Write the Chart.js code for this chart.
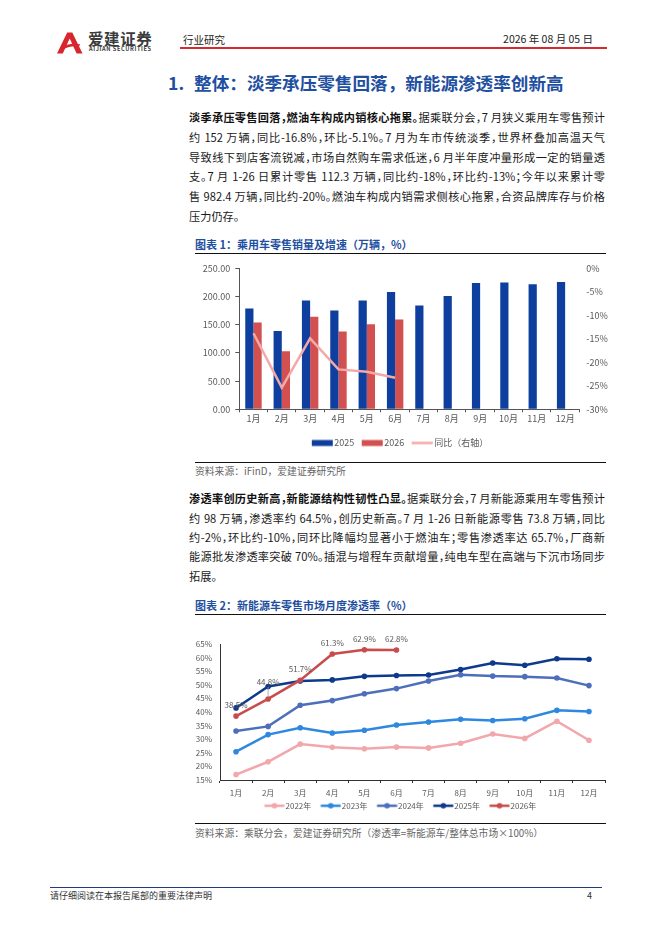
<!DOCTYPE html>
<html><head><meta charset="utf-8">
<script src="https://cdn.jsdelivr.net/npm/chart.js@4.4.1/dist/chart.umd.min.js"></script>
<style>
html,body{margin:0;padding:0;background:#fff;}
body{width:662px;height:936px;position:relative;overflow:hidden;font-family:"Noto Sans CJK SC","Noto Sans",sans-serif;color:#1a1a1a;}
.a{position:absolute;white-space:nowrap;}
.ln{position:absolute;left:189px;width:416px;font-size:11.2px;line-height:14px;height:14px;text-align:justify;text-align-last:justify;font-feature-settings:"halt";overflow:visible;}
.ln.last{text-align-last:left;}
.ln b{font-weight:700;color:#111;}
.cap{position:absolute;left:195px;font-size:11px;font-weight:700;color:#1f4fa0;line-height:14px;white-space:nowrap;}
.rule{position:absolute;left:195px;width:411px;height:1px;background:#111;}
.src{position:absolute;left:195px;font-size:9.8px;color:#666;line-height:12px;white-space:nowrap;}
canvas{position:absolute;}
</style>
</head><body>

<!-- header -->
<svg class="a" style="left:57px;top:32px" width="26" height="22" viewBox="0 0 26 22">
  <path d="M0 21.5 L10.2 0.5 L15.3 0.5 L25.5 21.5 L19.6 21.5 L12.7 6.5 L5.8 21.5 Z" fill="#d7262e"/>
  <path d="M3.5 16 Q12 10.5 23 12.3 L22.2 14.6 Q13 13.2 5.2 18 Z" fill="#d7262e"/>
</svg>
<div class="a" style="left:88px;top:29px;font-size:15.5px;font-weight:700;letter-spacing:0.6px;color:#3b3b3b;line-height:18px;">爱建证券</div>
<div class="a" style="left:89px;top:46px;font-size:5.6px;font-weight:700;letter-spacing:0.62px;color:#3b3b3b;line-height:7px;">AIJIAN SECURITIES</div>
<div class="a" style="left:183px;top:33px;font-size:10.5px;line-height:14px;color:#222;">行业研究</div>
<div class="a" style="right:69px;top:32px;font-size:10.5px;line-height:14px;color:#222;">2026 年 08 月 05 日</div>
<div class="a" style="left:180px;top:47px;width:427px;height:2px;background:#d42a30;"></div>

<!-- title -->
<div class="a" style="left:168px;top:72px;font-size:17.6px;line-height:22px;font-weight:700;color:#1f4fa0;"><span>1.</span><span style="margin-left:10px;">整体：淡季承压零售回落，新能源渗透率创新高</span></div>

<!-- paragraph 1 -->
<div class="ln" style="top:110px"><b>淡季承压零售回落，燃油车构成内销核心拖累。</b>据乘联分会，7 月狭义乘用车零售预计</div>
<div class="ln" style="top:129.8px">约 152 万辆，同比-16.8%，环比-5.1%。7 月为车市传统淡季，世界杯叠加高温天气</div>
<div class="ln" style="top:149.6px">导致线下到店客流锐减，市场自然购车需求低迷，6 月半年度冲量形成一定的销量透</div>
<div class="ln" style="top:169.4px">支。7 月 1-26 日累计零售 112.3 万辆，同比约-18%，环比约-13%；今年以来累计零</div>
<div class="ln" style="top:189.2px">售 982.4 万辆，同比约-20%。燃油车构成内销需求侧核心拖累，合资品牌库存与价格</div>
<div class="ln last" style="top:209px">压力仍存。</div>

<div class="cap" style="top:237px">图表 1：乘用车零售销量及增速（万辆，%）</div>
<div class="rule" style="top:253px"></div>
<canvas id="c1" width="420" height="203" style="left:190px;top:256px;width:420px;height:203px;"></canvas>
<div class="rule" style="top:461.5px"></div>
<div class="src" style="top:464.5px">资料来源：iFinD，爱建证券研究所</div>

<!-- paragraph 2 -->
<div class="ln" style="top:491.3px"><b>渗透率创历史新高，新能源结构性韧性凸显。</b>据乘联分会，7 月新能源乘用车零售预计</div>
<div class="ln" style="top:510.6px">约 98 万辆，渗透率约 64.5%，创历史新高。7 月 1-26 日新能源零售 73.8 万辆，同比</div>
<div class="ln" style="top:529.9px">约-2%，环比约-10%，同环比降幅均显著小于燃油车；零售渗透率达 65.7%，厂商新</div>
<div class="ln" style="top:549.2px">能源批发渗透率突破 70%。插混与增程车贡献增量，纯电车型在高端与下沉市场同步</div>
<div class="ln last" style="top:568.5px">拓展。</div>

<div class="cap" style="top:598px">图表 2：新能源车零售市场月度渗透率（%）</div>
<div class="rule" style="top:614px"></div>
<canvas id="c2" width="420" height="206" style="left:190px;top:616px;width:420px;height:206px;"></canvas>
<div class="rule" style="top:823px"></div>
<div class="src" style="top:826.7px">资料来源：乘联分会，爱建证券研究所（渗透率=新能源车/整体总市场×100%）</div>

<!-- footer -->
<div class="a" style="left:50px;top:886.5px;width:552px;height:1.2px;background:#1f3f7a;"></div>
<div class="a" style="left:50px;top:890px;font-size:9px;line-height:12px;color:#333;">请仔细阅读在本报告尾部的重要法律声明</div>
<div class="a" style="left:587px;top:890px;font-size:9px;line-height:12px;color:#333;">4</div>

<script>
// ---------- data ----------
const months = ['1月','2月','3月','4月','5月','6月','7月','8月','9月','10月','11月','12月'];
const sales2025 = [179, 139, 193, 175.5, 193, 208, 184, 201, 224, 225, 222, 226];
const sales2026 = [154, 103, 164, 138, 151, 159.5, null, null, null, null, null, null];
const yoyPct    = [-13.8, -25.4, -14.9, -21.5, -22.0, -23.3, null, null, null, null, null, null];

const pen2022 = [17.0, 21.7, 28.2, 27.0, 26.5, 27.1, 26.8, 28.5, 31.9, 30.3, 36.6, 29.6];
const pen2023 = [25.4, 31.7, 34.2, 32.3, 33.3, 35.2, 36.3, 37.3, 36.9, 37.5, 40.6, 40.2];
const pen2024 = [33.0, 34.7, 42.5, 44.2, 46.7, 48.6, 51.4, 53.7, 53.2, 53.0, 52.5, 49.7];
const pen2025 = [41.5, 49.4, 51.4, 51.8, 53.1, 53.4, 53.6, 55.6, 58.0, 57.2, 59.6, 59.4];
const pen2026 = [38.5, 44.8, 51.7, 61.3, 62.9, 62.8, null, null, null, null, null, null];

const seriesNames1 = ['2025', '2026', '同比（右轴）'];
const seriesNames2 = ['2022年', '2023年', '2024年', '2025年', '2026年'];

// ---------- chart defaults ----------
Chart.defaults.font.family = '"Noto Sans CJK SC","Liberation Sans",sans-serif';
Chart.defaults.color = '#595959';
Chart.defaults.animation = false;

// legend swatch image: transparent left part so the swatch sits close to its text
function swatch(color, kind, imgW, x0, x1, h) {
  const c = document.createElement('canvas');
  c.width = imgW; c.height = h;
  const g = c.getContext('2d');
  const cy = h / 2;
  g.fillStyle = color; g.strokeStyle = color;
  if (kind === 'rect') {
    g.fillRect(x0, cy - 3, x1 - x0, 6);
  } else {
    g.lineWidth = 2.5;
    g.beginPath(); g.moveTo(x0, cy); g.lineTo(x1, cy); g.stroke();
    if (kind === 'linedot') { g.beginPath(); g.arc((x0 + x1) / 2, cy, 2.8, 0, Math.PI * 2); g.fill(); }
  }
  return c;
}

// ---------- chart 1 ----------
const axisColor = '#555';
const colors1 = ['#0e3f9e', '#d2504f', '#f4a9a9'];
new Chart(document.getElementById('c1'), {
  data: {
    labels: months,
    datasets: [
      { type: 'bar', label: seriesNames1[0], data: sales2025, backgroundColor: colors1[0], yAxisID: 'y', order: 2,
        categoryPercentage: 0.58, barPercentage: 1.0, borderWidth: 0 },
      { type: 'bar', label: seriesNames1[1], data: sales2026, backgroundColor: colors1[1], yAxisID: 'y', order: 3,
        categoryPercentage: 0.58, barPercentage: 1.0, borderWidth: 0 },
      { type: 'line', label: seriesNames1[2], data: yoyPct, borderColor: colors1[2], backgroundColor: colors1[2],
        borderWidth: 2.5, pointRadius: 0, tension: 0, yAxisID: 'y1', order: 1 }
    ]
  },
  options: {
    responsive: false,
    layout: { padding: { top: 12.3, bottom: 1.5, left: 0, right: 0 } },
    plugins: {
      tooltip: { enabled: false },
      legend: {
        position: 'bottom',
        labels: {
          font: { size: 9 }, color: '#595959', padding: 7.5,
          usePointStyle: true, pointStyleWidth: 18, boxHeight: 9,
          sort: (a, b) => a.datasetIndex - b.datasetIndex,
          generateLabels: (chart) => {
            const items = Chart.defaults.plugins.legend.labels.generateLabels(chart);
            items.forEach(it => {
              const kind = it.datasetIndex === 2 ? 'line' : 'rect';
              // box width 18 centred at 9 -> image width 28 centred at 14; swatch from 5..26 (box-relative 0..21)
              it.pointStyle = swatch(colors1[it.datasetIndex], kind, 28, 5, 26, 9);
            });
            return items;
          }
        }
      }
    },
    scales: {
      x: {
        offset: true,
        grid: { display: true, offset: true, drawOnChartArea: false, drawTicks: true, tickLength: 3, color: axisColor },
        border: { display: true, color: axisColor },
        ticks: { font: { size: 9 }, padding: 1, maxRotation: 0 },
        afterFit: s => { s.height = 21.7; }
      },
      y: {
        position: 'left', min: 0, max: 250,
        grid: { display: true, drawOnChartArea: false, drawTicks: true, tickLength: 4, color: axisColor },
        border: { display: true, color: axisColor },
        ticks: { stepSize: 50, font: { size: 9 }, padding: 5, callback: v => Number(v).toFixed(2) },
        afterFit: s => { s.width = 49.3; }
      },
      y1: {
        position: 'right', min: -30, max: 0,
        grid: { display: false, drawTicks: false, drawOnChartArea: false },
        border: { display: false },
        ticks: { stepSize: 5, font: { size: 9 }, padding: 7, callback: v => v + '%' },
        afterFit: s => { s.width = 30.7; }
      }
    }
  }
});

// ---------- chart 2 ----------
const colors2 = ['#f1a7ab', '#2f88df', '#4d6fbb', '#0d3a8c', '#c94c4d'];
const pens = [pen2022, pen2023, pen2024, pen2025, pen2026];

const pointLabelPlugin = {
  id: 'pointLabels',
  afterDatasetsDraw(chart) {
    const idx = chart.data.datasets.findIndex(d => d.showLabels);
    if (idx < 0) return;
    const meta = chart.getDatasetMeta(idx);
    const data = chart.data.datasets[idx].data;
    const ctx = chart.ctx;
    ctx.save();
    ctx.font = '8px "Noto Sans CJK SC","Liberation Sans",sans-serif';
    ctx.fillStyle = '#595959';
    ctx.textAlign = 'center';
    ctx.textBaseline = 'middle';
    meta.data.forEach((el, i) => {
      const v = data[i];
      if (v == null) return;
      let lift = 11;
      if (i === 1) {
        lift = 17;
        ctx.strokeStyle = '#9a9a9a'; ctx.lineWidth = 0.8;
        ctx.beginPath(); ctx.moveTo(el.x, el.y - 3); ctx.lineTo(el.x, el.y - 12); ctx.stroke();
      }
      ctx.fillText(v.toFixed(1) + '%', el.x, el.y - lift);
    });
    ctx.restore();
  }
};

new Chart(document.getElementById('c2'), {
  type: 'line',
  data: {
    labels: months,
    datasets: seriesNames2.map((name, i) => ({
      label: name, data: pens[i],
      borderColor: colors2[i], backgroundColor: colors2[i],
      pointBackgroundColor: colors2[i], pointBorderWidth: 0,
      borderWidth: 2.5, pointRadius: 2.8, tension: 0,
      order: 5 - i, showLabels: i === 4
    }))
  },
  options: {
    responsive: false,
    layout: { padding: { top: 28, bottom: 2.3, left: 0, right: 5 } },
    plugins: {
      tooltip: { enabled: false },
      legend: {
        position: 'bottom',
        labels: {
          font: { size: 8 }, color: '#595959', padding: 3.7,
          usePointStyle: true, pointStyleWidth: 22.8, boxHeight: 8,
          sort: (a, b) => a.datasetIndex - b.datasetIndex,
          generateLabels: (chart) => {
            const items = Chart.defaults.plugins.legend.labels.generateLabels(chart);
            items.forEach(it => { it.pointStyle = swatch(colors2[it.datasetIndex], 'linedot', 30, 9.4, 29.4, 8); });
            return items;
          }
        }
      }
    },
    scales: {
      x: {
        offset: true,
        grid: { display: true, offset: true, drawOnChartArea: false, drawTicks: true, tickLength: 3, color: '#333' },
        border: { display: true, color: '#333' },
        ticks: { font: { size: 8 }, padding: 5, maxRotation: 0 },
        afterFit: s => { s.height = 18; }
      },
      y: {
        min: 15, max: 65,
        grid: { display: false, drawTicks: false, drawOnChartArea: false },
        border: { display: true, color: '#333' },
        ticks: { stepSize: 5, font: { size: 8 }, padding: 8, callback: v => v + '%' },
        afterFit: s => { s.width = 30; }
      }
    }
  },
  plugins: [pointLabelPlugin]
});
</script>
</body></html>
